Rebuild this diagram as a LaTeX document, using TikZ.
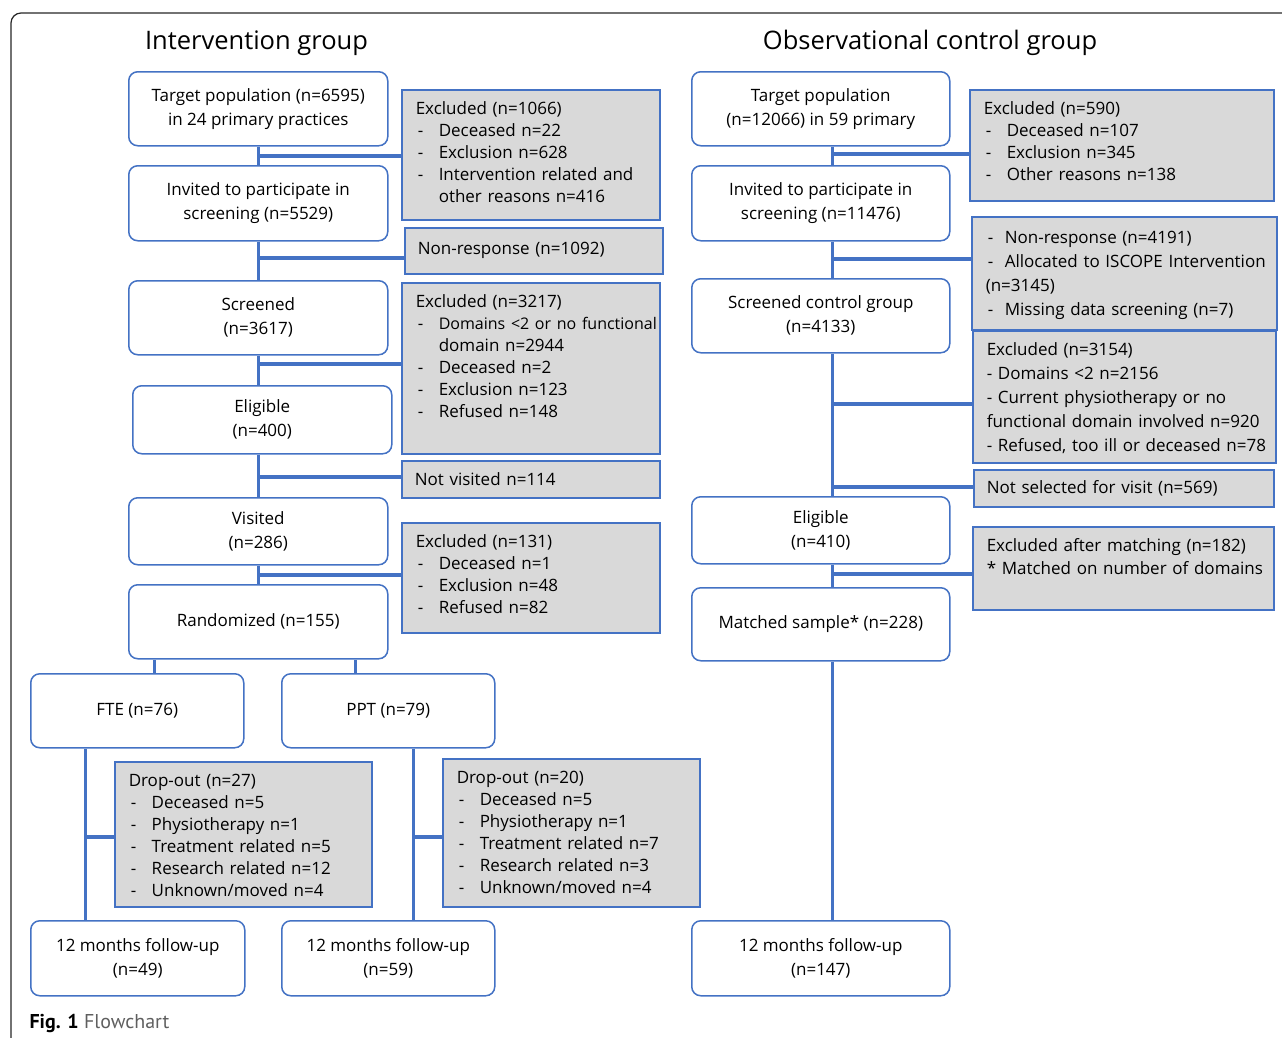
\documentclass[tikz,border=0pt]{standalone}
\usepackage{fontspec}
\setmainfont{Open Sans}
\newfontfamily\capfont{PT Sans}
\definecolor{boxblue}{RGB}{68,114,196}
\definecolor{exgrey}{RGB}{217,217,217}
\definecolor{captiongrey}{RGB}{95,95,95}
\newcommand{\dashitem}[1][23pt]{\makebox[#1][l]{\hspace{2pt}-}}

\tikzset{
	stage/.style={draw=boxblue, line width=1.5pt, rounded corners=9pt, fill=white, anchor=north west, align=center, inner sep=0pt, font=\fontsize{17}{24}\selectfont},
	greybox/.style={draw=boxblue, line width=1.5pt, fill=exgrey, anchor=north west, align=left, inner xsep=14pt, inner ysep=6pt, text height=19pt, font=\fontsize{17}{22}\selectfont},
	greyline/.style={draw=boxblue, line width=1.5pt, fill=exgrey, anchor=north west, align=left, inner xsep=13pt, inner ysep=0pt, font=\fontsize{17}{22}\selectfont},
	link/.style={draw=boxblue, line width=3.2pt},
	heading/.style={font=\fontsize{25.5}{30}\selectfont},
	frame/.style={draw=black!85, line width=1.2pt, rounded corners=10pt},
}

\begin{document}
\begin{tikzpicture}[x=1pt, y=-1pt]
	\useasboundingbox (0,0) rectangle (1282,1037);
	\draw[frame] (11,1045) -- (11,13) -- (1290,13);

	\node[heading] (titleI) at (256.5,43) {Intervention group};
	\node[heading] (titleC) at (930,43) {Observational control group};

	% intervention group
	\node[stage, minimum width=259pt, minimum height=74pt] (targetI) at (128,71) {Target population (n=6595)\\in 24 primary practices};
	\node[stage, minimum width=259pt, minimum height=75pt] (invitedI) at (128,165) {Invited to participate in\\screening (n=5529)};
	\node[stage, minimum width=259pt, minimum height=74pt] (screenedI) at (128,280) {Screened\\(n=3617)};
	\node[stage, minimum width=259pt, minimum height=68pt] (eligibleI) at (132,385) {Eligible\\(n=400)};
	\node[stage, minimum width=259pt, minimum height=67pt] (visitedI) at (128,497) {Visited\\(n=286)};
	\node[stage, minimum width=259pt, minimum height=74pt] (randomI) at (128,584) {Randomized (n=155)};
	\node[stage, minimum width=213pt, minimum height=74pt] (fte) at (30,673) {FTE (n=76)};
	\node[stage, minimum width=213pt, minimum height=74pt] (ppt) at (281,673) {PPT (n=79)};
	\node[stage, minimum width=214pt, minimum height=75pt] (fuF) at (30,920) {12 months follow-up\\(n=49)};
	\node[stage, minimum width=213pt, minimum height=75pt] (fuP) at (281,920) {12 months follow-up\\(n=59)};

	\node[greybox, text width=230pt, text depth=99pt] (exclA) at (401,89) {Excluded (n=1066)\\\dashitem Deceased n=22\\\dashitem Exclusion n=628\\\dashitem Intervention related and\\\hspace*{23pt}other reasons n=416};
	\node[greyline, text width=232pt, minimum height=46pt] (nonrespI) at (404,227) {Non-response (n=1092)};
	\node[greybox, text width=230pt, text depth=140pt] (exclB) at (401,282) {Excluded (n=3217)\\\mbox{\dashitem{\fontsize{16}{22}\selectfont Domains <2 or no functional}}\\\hspace*{23pt}domain n=2944\\\dashitem Deceased n=2\\\dashitem Exclusion n=123\\\dashitem Refused n=148};
	\node[greyline, text width=232pt, minimum height=37pt] (notvis) at (401,460) {Not visited n=114};
	\node[greybox, text width=230pt, text depth=79pt] (exclC) at (401,522) {Excluded (n=131)\\\dashitem Deceased n=1\\\dashitem Exclusion n=48\\\dashitem Refused n=82};
	\node[greybox, text width=229pt, text depth=114pt] (dropF) at (114,761) {Drop-out (n=27)\\\dashitem Deceased n=5\\\dashitem Physiotherapy n=1\\\dashitem Treatment related n=5\\\dashitem Research related n=12\\\dashitem Unknown/moved n=4};
	\node[greybox, text width=229pt, text depth=117pt] (dropP) at (442,758) {Drop-out (n=20)\\\dashitem Deceased n=5\\\dashitem Physiotherapy n=1\\\dashitem Treatment related n=7\\\dashitem Research related n=3\\\dashitem Unknown/moved n=4};

	% control group
	\node[stage, minimum width=258pt, minimum height=74pt] (targetC) at (691,71) {Target population\\(n=12066) in 59 primary};
	\node[stage, minimum width=258pt, minimum height=75pt] (invitedC) at (691,165) {Invited to participate in\\screening (n=11476)};
	\node[stage, minimum width=258pt, minimum height=74pt] (screenedC) at (691,278) {Screened control group\\(n=4133)};
	\node[stage, minimum width=258pt, minimum height=67pt] (eligibleC) at (691,496) {Eligible\\(n=410)};
	\node[stage, minimum width=258pt, minimum height=73pt] (matched) at (691,587) {Matched sample* (n=228)};
	\node[stage, minimum width=258pt, minimum height=75pt] (fuC) at (691,920) {12 months follow-up\\(n=147)};

	\node[greybox, text width=276pt, text depth=80pt] (exclD) at (969,89) {Excluded (n=590)\\\dashitem Deceased n=107\\\dashitem Exclusion n=345\\\dashitem Other reasons n=138};
	\node[greybox, text width=277pt, text depth=80pt, text height=21pt, font=\fontsize{17}{24}\selectfont] (nonrespC) at (971,216) {\dashitem[19pt]Non-response (n=4191)\\\mbox{\dashitem[19pt]Allocated to ISCOPE Intervention}\\(n=3145)\\\dashitem[19pt]Missing data screening (n=7)};
	\node[greybox, text width=275pt, text depth=101pt, font=\fontsize{17}{24}\selectfont] (exclE) at (972,330) {Excluded (n=3154)\\- Domains <2 n=2156\\- Current physiotherapy or no\\\mbox{functional domain involved n=920}\\\mbox{- Refused, too ill or deceased n=78}};
	\node[greyline, text width=274pt, minimum height=37pt] (notsel) at (973,469) {Not selected for visit (n=569)};
	\node[greybox, text width=273pt, text depth=52pt, font=\fontsize{17}{23}\selectfont] (exclM) at (972,526) {Excluded after matching (n=182)\\\mbox{* Matched on number of domains}};

	% connectors, intervention group
	\draw[link] (targetI.south) -- (invitedI.north);
	\draw[link] (invitedI.south) -- (screenedI.north);
	\draw[link] (screenedI.south) -- (screenedI.south |- eligibleI.north);
	\draw[link] (visitedI.north |- eligibleI.south) -- (visitedI.north);
	\draw[link] (visitedI.south) -- (randomI.north);
	\coordinate (jA) at (258,156);
	\coordinate (jB) at (258,258);
	\coordinate (jC) at (258,364);
	\coordinate (jD) at (258,477);
	\coordinate (jE) at (258,575);
	\draw[link] (jA) -- (jA -| exclA.west);
	\draw[link] (jB) -- (jB -| nonrespI.west);
	\draw[link] (jC) -- (jC -| exclB.west);
	\draw[link] (jD) -- (jD -| notvis.west);
	\draw[link] (jE) -- (jE -| exclC.west);
	\draw[link] ([xshift=17.5pt]fte.north) -- ([xshift=17.5pt]fte.north |- randomI.south);
	\draw[link] ([xshift=-32.5pt]ppt.north) -- ([xshift=-32.5pt]ppt.north |- randomI.south);
	\draw[link] ([xshift=-51.5pt]fte.south) -- ([xshift=-51.5pt]fte.south |- fuF.north);
	\draw[link] ([xshift=25.5pt]ppt.south) -- ([xshift=25.5pt]ppt.south |- fuP.north);
	\coordinate (jF) at (85,837);
	\coordinate (jP) at (413,837);
	\draw[link] (jF) -- (jF -| dropF.west);
	\draw[link] (jP) -- (jP -| dropP.west);

	% connectors, control group
	\draw[link] ([xshift=11.5pt]targetC.south) -- ([xshift=11.5pt]invitedC.north);
	\draw[link] ([xshift=11.5pt]invitedC.south) -- ([xshift=11.5pt]screenedC.north);
	\draw[link] ([xshift=11.5pt]screenedC.south) -- ([xshift=11.5pt]eligibleC.north);
	\draw[link] ([xshift=11.5pt]eligibleC.south) -- ([xshift=11.5pt]matched.north);
	\draw[link] ([xshift=11.5pt]matched.south) -- ([xshift=11.5pt]fuC.north);
	\coordinate (jG) at (831.5,154);
	\coordinate (jH) at (831.5,259);
	\coordinate (jI) at (831.5,404);
	\coordinate (jJ) at (831.5,487);
	\coordinate (jK) at (831.5,574);
	\draw[link] (jG) -- (jG -| exclD.west);
	\draw[link] (jH) -- (jH -| nonrespC.west);
	\draw[link] (jI) -- (jI -| exclE.west);
	\draw[link] (jJ) -- (jJ -| notsel.west);
	\draw[link] (jK) -- (jK -| exclM.west);

	\node[anchor=base west, font=\capfont\fontsize{20}{24}\selectfont] (caption) at (26,1028) {\textbf{Fig. 1}\ \textcolor{captiongrey}{Flowchart}};
\end{tikzpicture}
\end{document}
